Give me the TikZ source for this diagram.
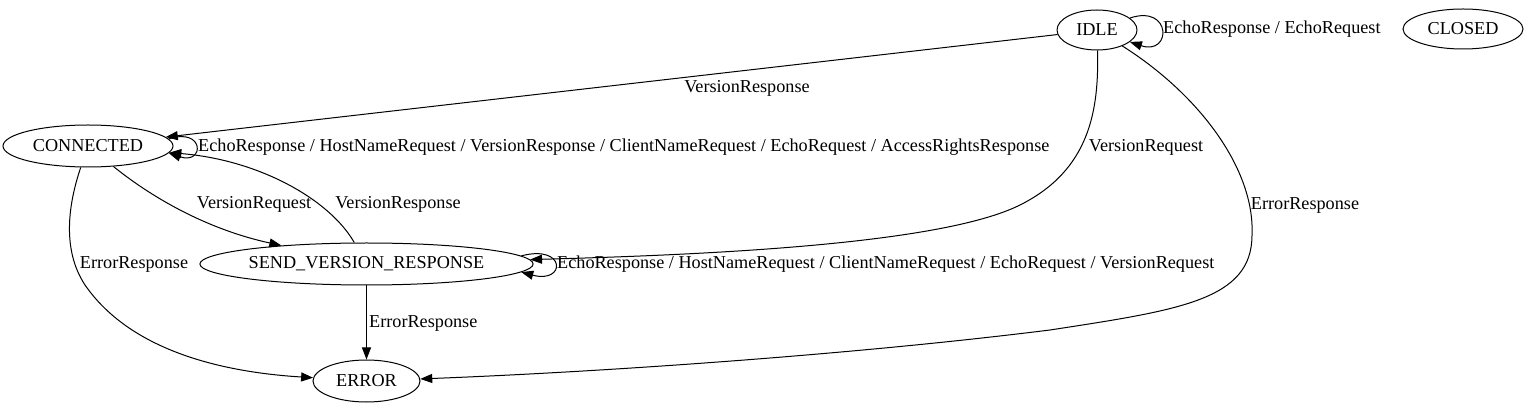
\documentclass[tikz,border=0pt]{standalone}
\usepackage{fontspec}
\setmainfont{Liberation Serif}
\usetikzlibrary{shapes.geometric,arrows.meta}
\begin{document}
\begin{tikzpicture}[x=1pt,y=-1pt,
  state/.style={draw,ellipse,line width=1pt,inner sep=0pt,minimum height=42pt},
  edge/.style={draw,line width=1pt,-{Triangle[length=12pt,width=9pt]}},
  lbl/.style={inner sep=0pt},
  every node/.style={font=\fontsize{18.2}{21}\selectfont}]
\fill[white] (0,0) rectangle (1528,411);
\useasboundingbox (0,0) rectangle (1528,411);
% states
\node[state,minimum width=80pt,minimum height=40pt] (idle) at (1097,30) {IDLE};
\node[state,minimum width=120pt,minimum height=40pt] (closed) at (1463,29) {CLOSED};
\node[state,minimum width=170pt] (conn) at (88,146) {CONNECTED};
\node[state,minimum width=332pt] (svr) at (366.5,264) {SEND\_VERSION\_RESPONSE};
\node[state,minimum width=107pt] (err) at (366.5,381) {ERROR};
% edges
\draw[edge] (idle) -- (conn);
\draw[edge] (idle.20) .. controls +(42,-14) and +(42,14) .. (idle.-20);
\draw[edge] (idle) .. controls (1099,110) and (1090,170) .. (1020,205)
  .. controls (940,245) and (700,255) .. (svr);
\draw[edge] (idle) .. controls (1200,95) and (1255,170) .. (1252,235)
  .. controls (1252,300) and (1180,310) .. (1050,330)
  .. controls (850,355) and (600,372) .. (err);
\draw[edge] (conn.5) .. controls +(36,-12) and +(36,12) .. (conn.-5);
\draw[edge] (conn) .. controls (155,200) and (210,230) .. (svr);
\draw[edge] (svr) .. controls (330,200) and (260,160) .. (conn);
\draw[edge] (conn) .. controls (68,205) and (62,250) .. (85,285)
  .. controls (130,350) and (220,372) .. (err);
\draw[edge] (svr.3) .. controls +(45,-12) and +(45,12) .. (svr.-3);
\draw[edge] (svr) -- (err);
% labels
\node[lbl] (l1) at (747,88) {VersionResponse};
\node[lbl,anchor=west] (l2) at (1163,29) {EchoResponse / EchoRequest};
\node[lbl,anchor=west] (l3) at (198,147) {EchoResponse / HostNameRequest / VersionResponse / ClientNameRequest / EchoRequest / AccessRightsResponse};
\node[lbl] (l4) at (254,204) {VersionRequest};
\node[lbl] (l5) at (398,204) {VersionResponse};
\node[lbl] (l6) at (1146,147) {VersionRequest};
\node[lbl] (l7) at (1305,205) {ErrorResponse};
\node[lbl] (l8) at (134,264) {ErrorResponse};
\node[lbl,anchor=west] (l9) at (557,264) {EchoResponse / HostNameRequest / ClientNameRequest / EchoRequest / VersionRequest};
\node[lbl,anchor=west] (l10) at (369,323) {ErrorResponse};
\end{tikzpicture}
\end{document}
